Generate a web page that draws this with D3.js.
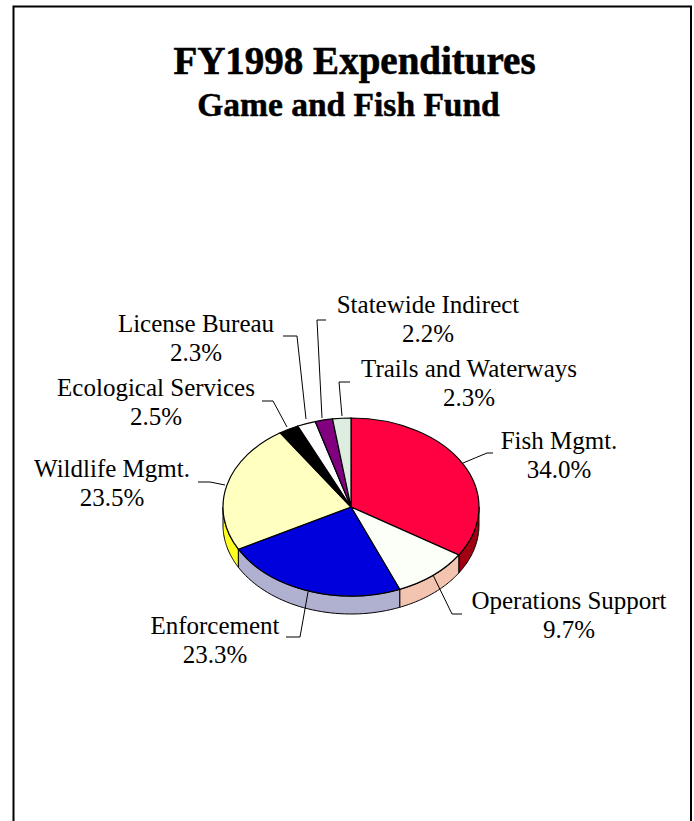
<!DOCTYPE html>
<html>
<head>
<meta charset="utf-8">
<script src="https://cdn.jsdelivr.net/npm/d3@7"></script>
<style>
html,body{margin:0;padding:0;background:#fff;}
svg{display:block;}
text{font-family:"Liberation Serif",serif;fill:#000;}
</style>
</head>
<body>
<svg id="chart" width="694" height="821"></svg>
<script>
const categories = ["Fish Mgmt.","Operations Support","Enforcement","Wildlife Mgmt.","Ecological Services","License Bureau","Statewide Indirect","Trails and Waterways"];
const shares = [34.0,9.7,23.3,23.5,2.5,2.3,2.2,2.3];
const topColors = ["#ff0040","#fbfff8","#0000dc","#ffffc0","#000000","#ffffff","#800080","#ddeee0"];
const sideColors = ["#a00010","#f3c4b0","#b0b0d0","#ffff20","#000000","#ffffff","#800080","#ddeee0"];
const labelAnchors = [[559,449],[569,609],[215,634],[112,477],[156,396],[196,332],[428,313],[469,377]];
const leaderPaths = [
  [[463,463],[487,453],[493,453]],
  [[433,575],[452,614],[462,614]],
  [[308,592],[300,637],[286,637]],
  [[225,485],[210,482],[198,482]],
  [[287,427],[273,401],[262,401]],
  [[306,419],[297,336],[283,336]],
  [[322,418],[317,320],[326,320]],
  [[342,416],[339,382],[350,382]]
];
const titleLines = ["FY1998 Expenditures","Game and Fish Fund"];

const cx = 351, cy = 507, rx = 128, ry = 89, depth = 18;
const lineGap = 29;
const svg = d3.select("#chart");

svg.append("rect").attr("x",13.5).attr("y",6.5).attr("width",677.5).attr("height",830)
  .attr("fill","#fff").attr("stroke","#000").attr("stroke-width",2);

svg.append("text").attr("x",354.5).attr("y",74).attr("text-anchor","middle")
  .attr("font-size",39).attr("font-weight","bold").attr("stroke","#000").attr("stroke-width",0.6)
  .text(titleLines[0]);
svg.append("text").attr("x",348.5).attr("y",116).attr("text-anchor","middle")
  .attr("font-size",33.5).attr("font-weight","bold").attr("stroke","#000").attr("stroke-width",0.5)
  .text(titleLines[1]);

const slices = d3.pie().sort(null).value(d=>d)(shares);
const px = a => cx + rx*Math.sin(a);
const py = (a,dz=0) => cy - ry*Math.cos(a) + dz;

// Rim of the disc: only the front half, from 3 o'clock round to 9 o'clock, is visible
const rim = svg.append("g");
slices.forEach((s,i)=>{
  const a0 = Math.max(s.startAngle, Math.PI/2), a1 = Math.min(s.endAngle, 3*Math.PI/2);
  if (a1 <= a0) return;
  const steps = d3.range(0,41).map(k=>a0+(a1-a0)*k/40);
  const pts = steps.map(a=>[px(a),py(a)]).concat(steps.slice().reverse().map(a=>[px(a),py(a,depth)]));
  rim.append("path").attr("d",d3.line()(pts)+"Z")
    .attr("fill",sideColors[i]).attr("stroke","#000").attr("stroke-width",1);
});

// Top face: ordinary arcs squashed vertically to give the tilt
const arc = d3.arc().innerRadius(0).outerRadius(rx);
const face = svg.append("g").attr("transform",`translate(${cx},${cy}) scale(1,${ry/rx})`);
face.selectAll("path").data(slices).join("path")
  .attr("d",arc).attr("fill",(d,i)=>topColors[i])
  .attr("stroke","#000").attr("stroke-width",1.2).attr("vector-effect","non-scaling-stroke");

svg.append("g").selectAll("path").data(leaderPaths).join("path")
  .attr("d",d3.line()).attr("fill","none").attr("stroke","#000").attr("stroke-width",1);

const labels = svg.append("g").attr("font-size",25).attr("text-anchor","middle");
categories.forEach((c,i)=>{
  const [x,y] = labelAnchors[i];
  labels.append("text").attr("x",x).attr("y",y).text(c);
  labels.append("text").attr("x",x).attr("y",y+lineGap).text(shares[i].toFixed(1)+"%");
});
</script>
</body>
</html>
